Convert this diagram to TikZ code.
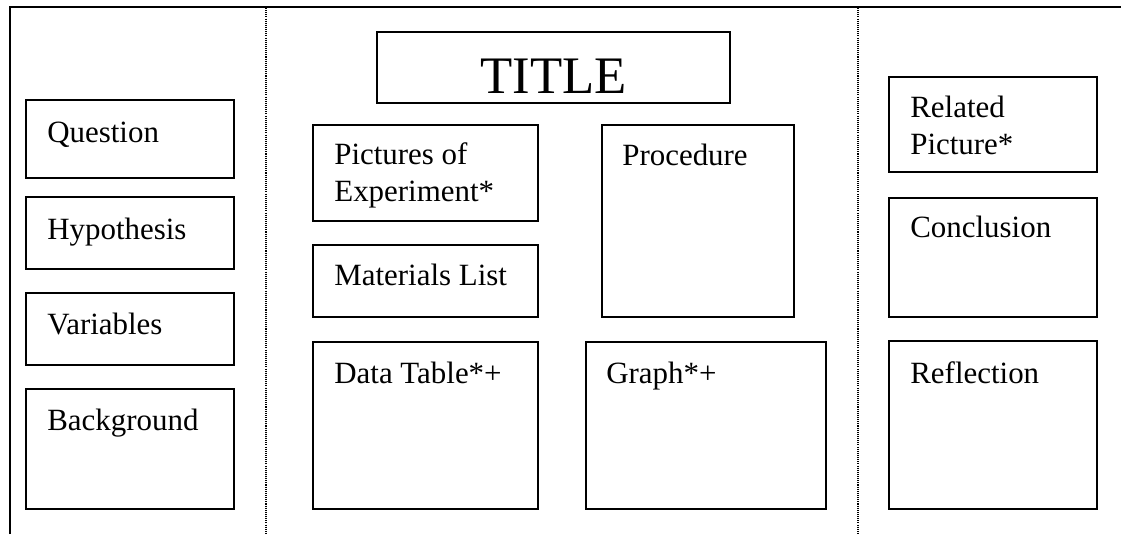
\documentclass[tikz,border=0pt]{standalone}
\usepackage{fontspec}
\setmainfont{Liberation Serif}

\begin{document}
\begin{tikzpicture}[x=0.02cm, y=-0.02cm,
  box/.style={draw, line width=1.1pt},
  txt/.style={anchor=base west, inner sep=0pt, align=left,
    font=\fontsize{17.6}{20.5}\selectfont},
  sepline/.style={line width=0.6pt, dash pattern=on 0.6pt off 0.6pt}]
\useasboundingbox (0,0) rectangle (1121,534);

% Frame and fold lines
\draw[line width=1.1pt] (10,534) -- (10,7) -- (1121,7);
\draw[sepline] (266,8) -- (266,534);
\draw[sepline] (858,8) -- (858,534);

% Left panel
\draw[box] (26,100) rectangle (234,178);
\node[txt] (question) at (47,142) {Question};
\draw[box] (26,197) rectangle (234,269);
\node[txt] (hypothesis) at (47,239) {Hypothesis};
\draw[box] (26,293) rectangle (234,365);
\node[txt] (variables) at (47,334) {Variables};
\draw[box] (26,389) rectangle (234,509);
\node[txt] (background) at (47,430) {Background};

% Middle panel
\draw[box] (377,32) rectangle (730,103);
\node[anchor=base, inner sep=0pt, font=\fontsize{30}{36}\selectfont] (title) at (553.5,93) {TITLE};
\draw[box] (313,125) rectangle (538,221);
\node[txt] (pictures) at (334,201) {Pictures of\\Experiment*};
\draw[box] (313,245) rectangle (538,317);
\node[txt] (materials) at (334,285) {Materials List};
\draw[box] (602,125) rectangle (794,317);
\node[txt] (procedure) at (622,165) {Procedure};
\draw[box] (313,342) rectangle (538,509);
\node[txt] (datatable) at (334,383) {Data Table*+};
\draw[box] (586,342) rectangle (826,509);
\node[txt] (graph) at (606,383) {Graph*+};

% Right panel
\draw[box] (889,77) rectangle (1097,172);
\node[txt] (related) at (910,154) {Related\\Picture*};
\draw[box] (889,198) rectangle (1097,317);
\node[txt] (conclusion) at (910,237) {Conclusion};
\draw[box] (889,341) rectangle (1097,509);
\node[txt] (reflection) at (910,383) {Reflection};
\end{tikzpicture}
\end{document}
